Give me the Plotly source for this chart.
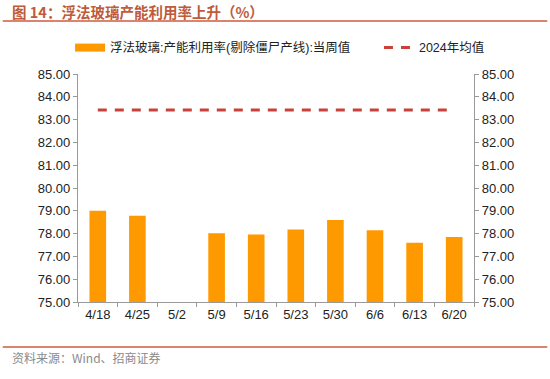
import plotly.graph_objects as go

categories = ["4/18", "4/25", "5/2", "5/9", "5/16", "5/23", "5/30", "6/6", "6/13", "6/20"]
weekly_values = [79.0, 78.78, None, 78.02, 77.96, 78.18, 78.6, 78.15, 77.6, 77.85]
avg_2024 = [83.42] * len(categories)
bar_name = "浮法玻璃:产能利用率(剔除僵尸产线):当周值"
avg_name = "2024年均值"
y_ticks = [75, 76, 77, 78, 79, 80, 81, 82, 83, 84, 85]

ORANGE = "#FF9900"
RED = "#C8423B"
FONT = "Liberation Sans, Arial, Noto Sans CJK SC, sans-serif"

fig = go.Figure()
fig.add_trace(go.Bar(x=categories, y=weekly_values, marker=dict(color=ORANGE, line=dict(width=0)),
                     width=0.42, showlegend=False, name=bar_name))
# legend-only swatch mimicking the wide bar marker
fig.add_trace(go.Scatter(x=[None], y=[None], mode="lines", line=dict(color=ORANGE, width=8),
                         name=bar_name, legend="legend"))
fig.add_trace(go.Scatter(x=categories, y=avg_2024, mode="lines", name=avg_name, yaxis="y2",
                         legend="legend2",
                         line=dict(color=RED, width=3, dash="9px,8px")))

axis_common = dict(range=[75, 85], tickvals=y_ticks, tickformat=".2f", showgrid=False,
                   zeroline=False, showline=True, linecolor="#9a9a9a", linewidth=1.3,
                   ticks="outside", ticklen=4, tickcolor="#9a9a9a",
                   tickfont=dict(size=13, color="#222", family=FONT))

legend_common = dict(orientation="h", xanchor="left", y=1.18, yanchor="top",
                     font=dict(size=12.5, color="#222", family=FONT), itemwidth=30,
                     bgcolor="rgba(0,0,0,0)")

fig.update_layout(
    width=550, height=379,
    margin=dict(l=78, r=76, t=74, b=77),
    paper_bgcolor="white", plot_bgcolor="white",
    bargap=0.58,
    xaxis=dict(type="category", showgrid=False, showline=True, linecolor="#9a9a9a", linewidth=1.3,
               ticks="outside", tickson="boundaries", ticklen=4, tickcolor="#9a9a9a",
               tickfont=dict(size=13, color="#222", family=FONT)),
    yaxis=dict(**axis_common, side="left"),
    yaxis2=dict(**axis_common, side="right", overlaying="y"),
    legend=dict(**legend_common, x=-0.02),
    legend2=dict(**legend_common, x=0.76),
    showlegend=True,
)

fig.add_annotation(xref="paper", yref="paper", x=-0.172, y=1.276, xanchor="left", yanchor="middle",
                   text="<b>图 14：浮法玻璃产能利用率上升（%）</b>", showarrow=False,
                   font=dict(size=14.5, color="#BE5B3A", family="Noto Sans CJK SC, sans-serif"))
fig.add_shape(type="line", xref="paper", yref="paper", x0=-0.19, x1=1.185, y0=1.232, y1=1.232,
              line=dict(color="#CF5A3C", width=1.5))
fig.add_shape(type="line", xref="paper", yref="paper", x0=-0.19, x1=1.185, y0=-0.197, y1=-0.197,
              line=dict(color="#CF5A3C", width=1.5))
fig.add_annotation(xref="paper", yref="paper", x=-0.172, y=-0.242, xanchor="left", yanchor="middle",
                   text="资料来源：Wind、招商证券", showarrow=False,
                   font=dict(size=12, color="#8a8a8a", family="Noto Sans CJK SC, sans-serif"))

fig.write_html("out.html", config={"displayModeBar": False},
               post_script="document.body.style.margin='0';")
